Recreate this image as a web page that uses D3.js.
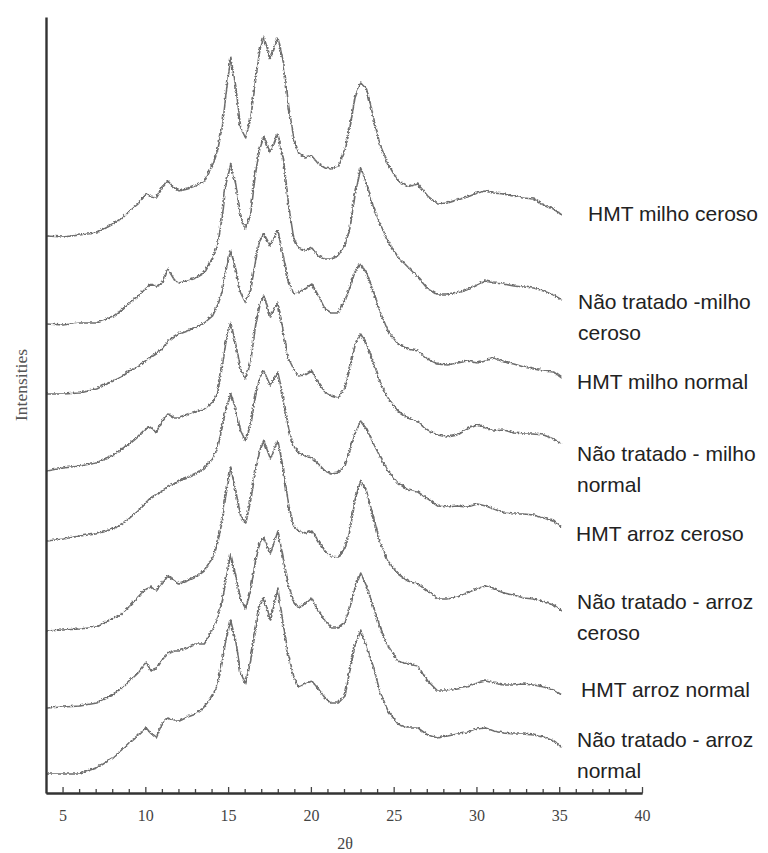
<!DOCTYPE html>
<html>
<head>
<meta charset="utf-8">
<script src="https://cdn.jsdelivr.net/npm/d3@7"></script>
<style>
  html, body { margin: 0; padding: 0; background: #fff; }
  svg { display: block; }
</style>
</head>
<body>
<svg id="chart" width="768" height="853"></svg>
<script>
// XRD patterns, HMT vs untreated starches (milho / arroz)
var twoTheta = [4, 5, 6, 7, 8, 8.5, 9, 9.5, 10, 10.3, 10.6, 11, 11.3, 11.7, 12, 12.5, 13, 13.5, 14, 14.3,
  14.6, 14.8, 15.1, 15.4, 15.7, 16, 16.3, 16.6, 16.85, 17.1, 17.5, 17.95, 18.3, 18.6, 18.9, 19.2, 19.6, 20,
  20.4, 20.8, 21.2, 21.6, 22, 22.3, 22.6, 22.95, 23.3, 23.7, 24.1, 24.6, 25.2, 25.8, 26.4, 27, 27.6, 28.2,
  28.8, 29.4, 30, 30.5, 31, 31.6, 32.2, 32.8, 33.4, 34, 34.6, 35.1];

// sample names, top to bottom (multi-line labels split on "|")
var sampleNames = [
  "HMT milho ceroso",
  "Não tratado -milho|ceroso",
  "HMT milho normal",
  "Não tratado - milho|normal",
  "HMT arroz ceroso",
  "Não tratado - arroz|ceroso",
  "HMT arroz normal",
  "Não tratado - arroz|normal"
];

// vertical stacking offset of each pattern (a.u.)
var offsets = [558, 470, 400, 323, 253, 163, 86, 20];

// intensities above each pattern's own baseline (a.u.)
var hmtMilhoCeroso = [0, -1, 1, 3, 12, 17, 25, 32, 42, 39, 38, 49, 55, 48, 45, 47, 50, 54, 70, 85,
  110, 140, 178, 150, 108, 98, 117, 155, 185, 199, 177, 198, 172, 130, 98, 83, 78, 80, 72, 68,
  67, 69, 85, 108, 138, 153, 147, 120, 92, 72, 55, 49, 52, 40, 32, 33, 36, 39, 43, 45,
  43, 42, 40, 38, 37, 31, 27, 21];
var naoTratMilhoCeroso = [0, -1, 1, 1, 7, 13, 21, 27, 35, 40, 37, 41, 55, 44, 41, 43, 46, 51, 65, 78,
  108, 138, 160, 140, 108, 95, 109, 151, 175, 187, 171, 190, 163, 118, 86, 76, 73, 76, 68, 65,
  65, 68, 78, 95, 128, 156, 141, 118, 101, 83, 67, 57, 47, 35, 29, 29, 31, 34, 39, 43,
  41, 40, 38, 37, 36, 33, 29, 24];
var hmtMilhoNormal = [0, 0, 1, 5, 13, 17, 23, 27, 33, 37, 40, 45, 52, 57, 60, 63, 66, 71, 78, 88,
  103, 123, 143, 125, 101, 91, 103, 133, 153, 160, 148, 163, 135, 113, 100, 101, 105, 110, 98, 85,
  81, 81, 93, 106, 121, 130, 121, 103, 83, 63, 50, 45, 43, 35, 30, 29, 31, 33, 31, 33,
  36, 32, 30, 27, 25, 23, 22, 16];
var naoTratMilhoNormal = [0, 3, 5, 8, 15, 21, 27, 34, 42, 44, 38, 50, 57, 53, 53, 56, 59, 61, 68, 77,
  105, 128, 148, 127, 102, 92, 108, 145, 165, 175, 154, 168, 137, 112, 102, 95, 96, 100, 88, 79,
  75, 73, 82, 102, 125, 137, 127, 110, 90, 73, 60, 53, 49, 40, 36, 34, 36, 42, 46, 43,
  40, 41, 38, 37, 37, 36, 32, 27];
var hmtArrozCeroso = [0, 2, 5, 7, 12, 16, 23, 30, 38, 43, 46, 50, 54, 57, 60, 63, 67, 72, 82, 92,
  115, 130, 147, 132, 110, 100, 115, 145, 162, 170, 155, 168, 142, 112, 95, 88, 85, 83, 77, 70,
  67, 68, 75, 90, 107, 120, 112, 98, 85, 70, 58, 51, 49, 42, 35, 34, 35, 34, 37, 35,
  32, 28, 27, 27, 26, 23, 20, 13];
var naoTratArrozCeroso = [0, 1, 2, 4, 12, 16, 24, 33, 42, 44, 40, 48, 55, 50, 47, 50, 54, 60, 72, 87,
  110, 135, 163, 140, 115, 107, 130, 160, 180, 190, 172, 190, 160, 125, 105, 100, 97, 100, 90, 80,
  74, 73, 82, 100, 130, 150, 140, 115, 90, 70, 57, 50, 47, 40, 32, 32, 34, 38, 42, 45,
  42, 38, 36, 33, 32, 29, 26, 20];
var hmtArrozNormal = [0, 1, 2, 5, 13, 19, 27, 35, 45, 37, 39, 49, 54, 57, 57, 60, 64, 64, 77, 89,
  107, 127, 154, 132, 109, 99, 117, 147, 164, 170, 154, 177, 147, 122, 107, 100, 104, 110, 97, 87,
  80, 80, 85, 100, 119, 135, 122, 102, 82, 62, 47, 44, 42, 27, 17, 17, 19, 21, 25, 27,
  25, 23, 23, 24, 23, 21, 18, 13];
var naoTratArrozNormal = [0, 0, 0, 6, 16, 23, 31, 38, 46, 40, 36, 51, 56, 53, 53, 57, 60, 66, 78, 88,
  113, 133, 153, 133, 101, 90, 113, 143, 168, 176, 153, 185, 146, 118, 98, 87, 90, 93, 85, 76,
  71, 71, 78, 103, 128, 143, 128, 108, 83, 63, 50, 46, 46, 39, 36, 38, 40, 41, 45, 46,
  43, 41, 40, 40, 39, 37, 33, 27];

var patterns = [hmtMilhoCeroso, naoTratMilhoCeroso, hmtMilhoNormal, naoTratMilhoNormal,
  hmtArrozCeroso, naoTratArrozCeroso, hmtArrozNormal, naoTratArrozNormal];

var xTicks = [5, 10, 15, 20, 25, 30, 35, 40];

// label placement, one per pattern (left x, first baseline y)
var labelPos = [[588, 221], [578, 309], [577, 389], [577, 461], [576, 541], [577, 609], [581, 697], [577, 747]];

var svg = d3.select("#chart");

var x = d3.scaleLinear().domain([4, 40]).range([46, 642]);
var y = d3.scaleLinear().domain([0, 776]).range([793, 17]);

// grainy look of the raw diffractograms
var defs = svg.append("defs");
var rough = defs.append("filter").attr("id", "rough")
    .attr("x", "-2%").attr("y", "-5%").attr("width", "104%").attr("height", "110%");
rough.append("feTurbulence")
    .attr("type", "turbulence")
    .attr("baseFrequency", 0.3)
    .attr("numOctaves", 2)
    .attr("seed", 4)
    .attr("result", "noise");
rough.append("feDisplacementMap")
    .attr("in", "SourceGraphic")
    .attr("in2", "noise")
    .attr("scale", 2.5)
    .attr("xChannelSelector", "R")
    .attr("yChannelSelector", "G");

var line = d3.line()
    .x(function(d) { return x(d[0]); })
    .y(function(d) { return y(d[1]); });

var curves = svg.append("g").attr("class", "curves");
patterns.forEach(function(p, i) {
    var pts = twoTheta.map(function(t, j) { return [t, offsets[i] + p[j]]; });
    curves.append("path")
        .attr("d", line(pts))
        .attr("fill", "none")
        .attr("stroke", "#6e6e6e")
        .attr("stroke-width", 1.6)
        .attr("stroke-linejoin", "round")
        .attr("filter", "url(#rough)");
});

// x axis with inward ticks
var minorVals = d3.range(6, 40).filter(function(v) { return v % 5 !== 0; });
var xMinor = svg.append("g")
    .attr("transform", "translate(0,793)")
    .call(d3.axisBottom(x).tickValues(minorVals).tickSize(-4).tickSizeOuter(0).tickFormat(""));
var xMajor = svg.append("g")
    .attr("transform", "translate(0,793)")
    .call(d3.axisBottom(x).tickValues(xTicks).tickSize(-6).tickSizeOuter(0).tickPadding(17));

[xMinor, xMajor].forEach(function(g) {
    g.select(".domain").attr("stroke", "#333").attr("stroke-width", 2.2);
    g.selectAll(".tick line").attr("stroke", "#444").attr("stroke-width", 1.3);
});
xMajor.selectAll(".tick text")
    .attr("font-family", "'Liberation Serif', 'Times New Roman', serif")
    .attr("font-size", 16)
    .attr("fill", "#444");

// y axis, no ticks
var yAxis = svg.append("g")
    .attr("transform", "translate(46,0)")
    .call(d3.axisLeft(y).tickValues([]).tickSizeOuter(0));
yAxis.select(".domain").attr("stroke", "#333").attr("stroke-width", 2.4);

svg.append("text")
    .attr("x", 345)
    .attr("y", 849)
    .attr("text-anchor", "middle")
    .attr("font-family", "'Liberation Serif', 'Times New Roman', serif")
    .attr("font-size", 16)
    .attr("fill", "#444")
    .text("2θ");

svg.append("text")
    .attr("transform", "translate(27,385) rotate(-90)")
    .attr("text-anchor", "middle")
    .attr("font-family", "'Liberation Serif', 'Times New Roman', serif")
    .attr("font-size", 17.5)
    .attr("fill", "#555")
    .text("Intensities");

// sample labels
var labels = svg.append("g").attr("class", "labels");
sampleNames.forEach(function(name, i) {
    var t = labels.append("text")
        .attr("x", labelPos[i][0])
        .attr("y", labelPos[i][1])
        .attr("font-family", "'Liberation Sans', Arial, sans-serif")
        .attr("font-size", 21)
        .attr("fill", "#222");
    name.split("|").forEach(function(part, k) {
        t.append("tspan")
            .attr("x", labelPos[i][0])
            .attr("dy", k === 0 ? 0 : 31)
            .text(part);
    });
});
</script>
</body>
</html>
